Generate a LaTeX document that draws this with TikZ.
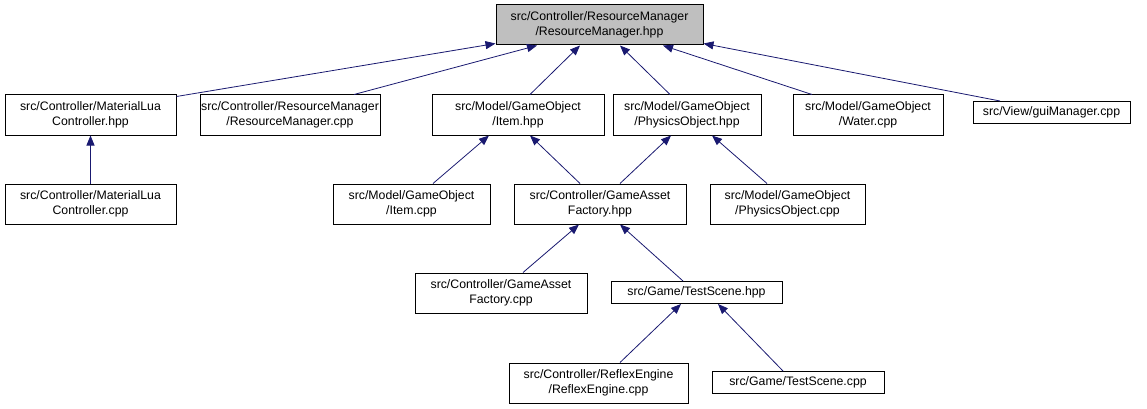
\documentclass[tikz,border=0pt]{standalone}
\usepackage{fontspec}
\setmainfont{Liberation Sans}
\usetikzlibrary{arrows.meta,calc}
\definecolor{edgeblue}{RGB}{25,25,112}
\definecolor{curfile}{RGB}{191,191,191}
\tikzset{
  file/.style={draw=black,line width=1pt,fill=white,inner sep=0pt,align=center,
    font=\fontsize{12.3}{15.5}\selectfont,minimum height=40pt},
  oneline/.style={minimum height=22pt},
  cur/.style={fill=curfile},
  inc/.style={-{Triangle[length=10pt,width=8pt]},edgeblue,line width=0.8pt},
}

\begin{document}
\begin{tikzpicture}[x=1pt,y=-1pt]
\useasboundingbox (0,0) rectangle (1147,409);
% the file itself
\node[file,cur,minimum width=207pt] (RMhpp) at (599.5,25) {src/Controller/ResourceManager\\/ResourceManager.hpp};
% files that include it directly
\node[file,minimum width=171pt] (MLhpp) at (90.5,115) {src/Controller/MaterialLua\\Controller.hpp};
\node[file,minimum width=180pt] (RMcpp) at (290,115) {src/Controller/ResourceManager\\/ResourceManager.cpp};
\node[file,minimum width=172pt] (Itemhpp) at (518,115) {src/Model/GameObject\\/Item.hpp};
\node[file,minimum width=148pt] (POhpp) at (687,115) {src/Model/GameObject\\/PhysicsObject.hpp};
\node[file,minimum width=150pt] (Watercpp) at (868,115) {src/Model/GameObject\\/Water.cpp};
\node[file,oneline,minimum width=157pt] (guicpp) at (1051.5,112.5) {src/View/guiManager.cpp};
% second level
\node[file,minimum width=171pt] (MLcpp) at (90.5,204) {src/Controller/MaterialLua\\Controller.cpp};
\node[file,minimum width=157pt] (Itemcpp) at (411.5,204) {src/Model/GameObject\\/Item.cpp};
\node[file,minimum width=172pt] (GAFhpp) at (600,204) {src/Controller/GameAsset\\Factory.hpp};
\node[file,minimum width=155pt] (POcpp) at (787.5,204) {src/Model/GameObject\\/PhysicsObject.cpp};
% third level
\node[file,minimum width=172pt] (GAFcpp) at (501,293) {src/Controller/GameAsset\\Factory.cpp};
\node[file,oneline,minimum width=171pt] (TShpp) at (696.5,292.5) {src/Game/TestScene.hpp};
% fourth level
\node[file,minimum width=179pt] (REcpp) at (598.5,383) {src/Controller/ReflexEngine\\/ReflexEngine.cpp};
\node[file,oneline,minimum width=172pt] (TScpp) at (798,382.5) {src/Game/TestScene.cpp};

% include edges
\draw[inc] ([yshift=-2pt]MLhpp.north east) -- ([yshift=2pt]RMhpp.south west);
\draw[inc] ([xshift=64pt]RMcpp.north) -- ([xshift=-62.5pt]RMhpp.south);
\draw[inc] ([xshift=12pt]Itemhpp.north) -- ([xshift=-19.5pt]RMhpp.south);
\draw[inc] ([xshift=-17pt]POhpp.north) -- ([xshift=20.5pt]RMhpp.south);
\draw[inc] ([xshift=-56pt]Watercpp.north) -- ([xshift=63.5pt]RMhpp.south);
\draw[inc] ([xshift=-51.5pt]guicpp.north) -- ([yshift=2pt]RMhpp.south east);
\draw[inc] (MLcpp.north) -- (MLhpp.south);
\draw[inc] ([xshift=21.5pt]Itemcpp.north) -- ([xshift=-29pt]Itemhpp.south);
\draw[inc] ([xshift=-20pt]GAFhpp.north) -- ([xshift=12pt]Itemhpp.south);
\draw[inc] ([xshift=20pt]GAFhpp.north) -- ([xshift=-16pt]POhpp.south);
\draw[inc] ([xshift=-20.5pt]POcpp.north) -- ([xshift=25pt]POhpp.south);
\draw[inc] ([xshift=22pt]GAFcpp.north) -- ([xshift=-21pt]GAFhpp.south);
\draw[inc] ([xshift=-13.5pt]TShpp.north) -- ([xshift=20pt]GAFhpp.south);
\draw[inc] ([xshift=21.5pt]REcpp.north) -- ([xshift=-15.5pt]TShpp.south);
\draw[inc] ([xshift=-15pt]TScpp.north) -- ([xshift=21.5pt]TShpp.south);
\end{tikzpicture}
\end{document}
